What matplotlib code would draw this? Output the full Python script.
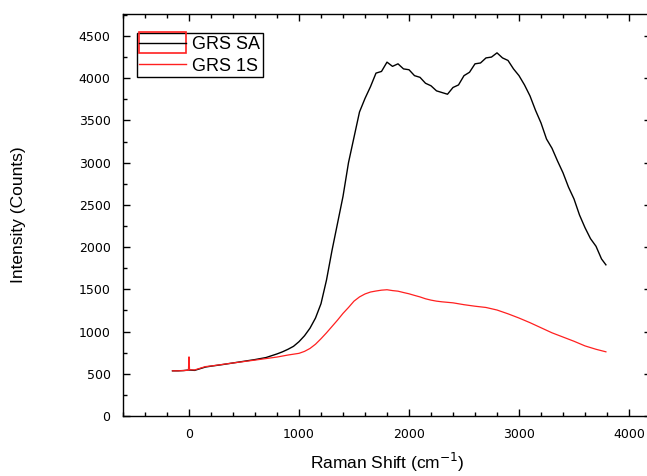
import matplotlib.pyplot as plt
from matplotlib.lines import Line2D
from matplotlib.patches import Rectangle
from matplotlib.legend_handler import HandlerPatch, HandlerTuple

# GRS SA (black)
sa_shift = [-150, -100, -50, 0, 50, 100, 150, 200, 300, 400, 500, 600, 700, 800,
            850, 900, 950, 1000, 1050, 1100, 1150, 1200, 1250, 1300, 1350, 1400,
            1450, 1500, 1550, 1600, 1650, 1700, 1750, 1800, 1850, 1900, 1950, 2000,
            2050, 2100, 2150, 2200, 2250, 2300, 2350, 2400, 2450, 2500, 2550, 2600,
            2650, 2700, 2750, 2800, 2850, 2900, 2950, 3000, 3050, 3100, 3150, 3200,
            3250, 3300, 3350, 3400, 3450, 3500, 3550, 3600, 3650, 3700, 3750, 3790]
sa_counts = [535, 535, 538, 545, 540, 560, 580, 590, 608, 628, 648, 668, 692, 735,
             760, 790, 825, 880, 950, 1040, 1160, 1330, 1610, 1960, 2280, 2600,
             3000, 3300, 3600, 3760, 3900, 4060, 4080, 4190, 4140, 4170, 4110, 4100,
             4030, 4010, 3940, 3910, 3850, 3830, 3810, 3890, 3920, 4030, 4070, 4170,
             4180, 4240, 4250, 4300, 4240, 4210, 4110, 4030, 3920, 3790, 3620, 3470,
             3280, 3170, 3020, 2880, 2710, 2570, 2380, 2230, 2100, 2010, 1860, 1790]

# GRS 1S (red)
s1_shift = [-150, -100, -50, -5, 0, 5, 50, 100, 150, 200, 300, 400, 500, 600, 700,
            800, 900, 1000, 1050, 1100, 1150, 1200, 1250, 1300, 1350, 1400, 1450,
            1500, 1550, 1600, 1650, 1700, 1750, 1800, 1850, 1900, 1950, 2000, 2050,
            2100, 2150, 2200, 2250, 2300, 2400, 2500, 2600, 2700, 2800, 2900, 3000,
            3100, 3200, 3300, 3400, 3500, 3600, 3700, 3790]
s1_counts = [535, 535, 538, 542, 700, 548, 545, 565, 585, 592, 610, 628, 645, 662, 680,
             698, 722, 742, 765, 800, 850, 915, 985, 1060, 1135, 1215, 1285,
             1360, 1410, 1445, 1468, 1480, 1490, 1495, 1485, 1478, 1462, 1447, 1428,
             1410, 1388, 1372, 1360, 1352, 1340, 1318, 1300, 1285, 1255, 1210, 1160,
             1105, 1045, 985, 935, 885, 830, 790, 760]

plt.rcParams['font.family'] = ['Liberation Sans', 'DejaVu Sans']

fig = plt.figure(figsize=(6.47, 4.76), dpi=100)
ax = fig.add_axes([123 / 647, 60 / 476, 528 / 647, 402 / 476])

ax.plot(sa_shift, sa_counts, color='black', lw=1.0, zorder=2)
ax.plot(s1_shift, s1_counts, color='#ff2020', lw=0.9, zorder=3)

ax.set_xlim(-600, 4200)
ax.set_ylim(0, 4760)
ax.set_xticks([0, 1000, 2000, 3000, 4000])
ax.set_xticks(range(-600, 4201, 200), minor=True)
ax.set_yticks(range(0, 4501, 500))
ax.set_yticks(range(0, 4751, 250), minor=True)
ax.tick_params(which='both', direction='in', top=True, right=True, width=1.0)
ax.tick_params(which='major', length=5, labelsize=9)
ax.tick_params(which='minor', length=3)
for lbl in ax.get_xticklabels() + ax.get_yticklabels():
    lbl.set_family('DejaVu Sans')
ax.tick_params(axis='x', pad=9)
ax.tick_params(axis='y', pad=9)
for s in ax.spines.values():
    s.set_linewidth(1.0)

ax.set_xlabel('Raman Shift (cm$^{-1}$)', fontsize=12.5, labelpad=7)
ax.set_ylabel('Intensity (Counts)', fontsize=12.5, labelpad=38)


def red_box(legend, orig_handle, xdescent, ydescent, width, height, fontsize):
    return Rectangle((-xdescent, -ydescent - 3), width, height + 6)


box = Rectangle((0, 0), 1, 1, facecolor='none', edgecolor='#ff2020', lw=1.2)
sa_line = Line2D([], [], color='black', lw=1.0)
s1_line = Line2D([], [], color='#ff2020', lw=1.0)
leg = ax.legend([(box, sa_line), s1_line], ['GRS SA', 'GRS 1S'],
                handler_map={tuple: HandlerTuple(ndivide=1),
                             Rectangle: HandlerPatch(patch_func=red_box)},
                loc='upper left', bbox_to_anchor=(0.026, 0.952),
                fontsize=13, frameon=True, fancybox=False, framealpha=1,
                edgecolor='black', borderpad=0.15, handlelength=2.6,
                handletextpad=0.3, labelspacing=0.25, borderaxespad=0)
leg.get_frame().set_linewidth(1.0)

fig.savefig('out.png', dpi=100)
